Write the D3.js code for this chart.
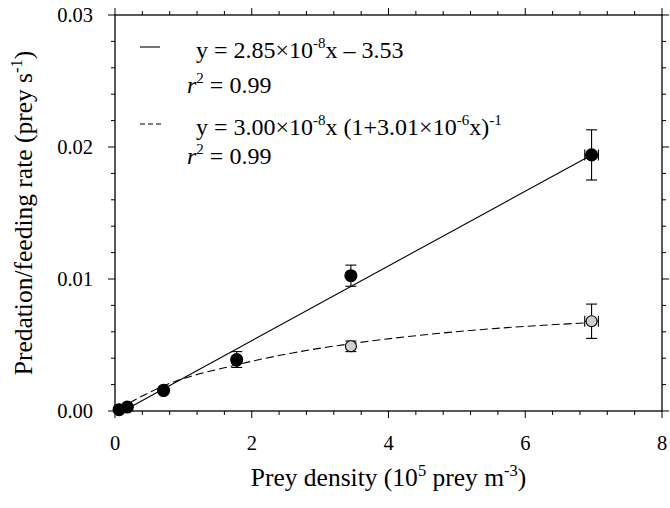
<!DOCTYPE html>
<html>
<head>
<meta charset="utf-8">
<script src="https://cdn.jsdelivr.net/npm/d3@7"></script>
<style>
body { margin: 0; background: #fff; }
</style>
</head>
<body>
<div id="chart"></div>
<script>
// prey density (10^5 prey m^-3)
const density = [0.06, 0.18, 0.71, 1.78, 3.45, 6.97];
const densityErr = [0, 0, 0, 0, 0.04, 0.1];
// filled symbols: predation rate
const predRate = [0.0001, 0.0003, 0.00155, 0.0039, 0.01025, 0.0194];
const predErr = [0.00005, 0.0001, 0.0002, 0.0006, 0.0008, 0.0019];
// open symbols: feeding rate
const feedRate = [0.0001, 0.0003, 0.0016, 0.0038, 0.0049, 0.0068];
const feedErr = [0.00005, 0.0001, 0.0002, 0.0002, 0.0004, 0.0013];
// fitted lines
const linFitX = [0.12, 6.97];
const linFitY = [0.0, 0.0194];
const curveFitX = [0.06, 0.18, 0.71, 1.78, 2.6, 3.45, 5.2, 6.97];
const curveFitY = [0.00018, 0.00053, 0.0019, 0.0035, 0.0044, 0.0051, 0.0061, 0.0067];

const xTicks = [0, 2, 4, 6, 8];
const yTicks = [0.00, 0.01, 0.02, 0.03];

const W = 670, H = 508;
const margin = {left: 115, right: 8, top: 15, bottom: 97};
const FONT = '"Liberation Serif", "Times New Roman", Times, "DejaVu Serif", serif';

const svg = d3.select('#chart').append('svg')
    .attr('width', W).attr('height', H)
    .style('font-family', FONT);

const x = d3.scaleLinear().domain([0, 8]).range([margin.left, W - margin.right]);
const y = d3.scaleLinear().domain([0, 0.03]).range([H - margin.bottom, margin.top]);

const x0 = x(0), x1 = x(8), y0 = y(0), y1 = y(0.03);

// minor + major ticks on all four sides, pointing outward
const xMinor = d3.range(0, 8.001, 0.4);
const yMinor = d3.range(0, 0.03001, 0.002);
const ticks = svg.append('g').attr('stroke', '#000').attr('stroke-width', 1);
xMinor.forEach(v => {
    const major = Math.abs(v / 2 - Math.round(v / 2)) < 1e-6;
    const len = major ? 7 : 4;
    ticks.append('line').attr('x1', x(v)).attr('x2', x(v)).attr('y1', y0).attr('y2', y0 + len);
    ticks.append('line').attr('x1', x(v)).attr('x2', x(v)).attr('y1', y1).attr('y2', y1 - len);
});
yMinor.forEach(v => {
    const major = Math.abs(v / 0.01 - Math.round(v / 0.01)) < 1e-6;
    const len = major ? 7 : 4;
    ticks.append('line').attr('y1', y(v)).attr('y2', y(v)).attr('x1', x0).attr('x2', x0 - len);
    ticks.append('line').attr('y1', y(v)).attr('y2', y(v)).attr('x1', x1).attr('x2', x1 + len);
});

svg.append('rect')
    .attr('x', x0).attr('y', y1)
    .attr('width', x1 - x0).attr('height', y0 - y1)
    .attr('fill', 'none').attr('stroke', '#000').attr('stroke-width', 1.3);

// tick labels
svg.append('g').selectAll('text').data(xTicks).enter().append('text')
    .attr('x', d => x(d)).attr('y', y0 + 39)
    .attr('text-anchor', 'middle').attr('font-size', 20.5)
    .text(d => d);
svg.append('g').selectAll('text').data(yTicks).enter().append('text')
    .attr('x', x0 - 22).attr('y', d => y(d) + 7)
    .attr('text-anchor', 'end').attr('font-size', 20.5)
    .text(d => d.toFixed(2));

// axis titles
const xt = svg.append('text')
    .attr('x', (x0 + x1) / 2).attr('y', 486)
    .attr('text-anchor', 'middle').attr('font-size', 25.5);
xt.append('tspan').text('Prey density (10');
xt.append('tspan').attr('dy', -10).attr('font-size', 16.5).text('5');
xt.append('tspan').attr('dy', 10).text(' prey m');
xt.append('tspan').attr('dy', -10).attr('font-size', 16.5).text('-3');
xt.append('tspan').attr('dy', 10).text(')');

const yt = svg.append('text')
    .attr('transform', `translate(32, ${(y0 + y1) / 2}) rotate(-90)`)
    .attr('text-anchor', 'middle').attr('font-size', 25.5);
yt.append('tspan').text('Predation/feeding rate (prey s');
yt.append('tspan').attr('dy', -10).attr('font-size', 16.5).text('-1');
yt.append('tspan').attr('dy', 10).text(')');

// fitted lines
const line = d3.line().x(d => x(d[0])).y(d => y(d[1]));
svg.append('path')
    .datum(d3.zip(linFitX, linFitY))
    .attr('d', line)
    .attr('fill', 'none').attr('stroke', '#000').attr('stroke-width', 1.1);
svg.append('path')
    .datum(d3.zip(curveFitX, curveFitY))
    .attr('d', line.curve(d3.curveMonotoneX))
    .attr('fill', 'none').attr('stroke', '#000').attr('stroke-width', 1.1)
    .attr('stroke-dasharray', '8,4');

function drawSeries(rates, errs, fill, r) {
    const pts = density.map((d, i) => ({x: d, y: rates[i], ey: errs[i], ex: densityErr[i]}));
    const g = svg.append('g').attr('stroke', '#000').attr('stroke-width', 1.1);
    const cap = 5.5;
    pts.forEach(p => {
        const cx = x(p.x), cy = y(p.y);
        const top = y(p.y + p.ey), bot = y(p.y - p.ey);
        g.append('line').attr('x1', cx).attr('x2', cx).attr('y1', top).attr('y2', bot);
        g.append('line').attr('x1', cx - cap).attr('x2', cx + cap).attr('y1', top).attr('y2', top);
        g.append('line').attr('x1', cx - cap).attr('x2', cx + cap).attr('y1', bot).attr('y2', bot);
        if (p.ex > 0) {
            const l = x(p.x - p.ex), rr = x(p.x + p.ex);
            g.append('line').attr('x1', l).attr('x2', rr).attr('y1', cy).attr('y2', cy);
            g.append('line').attr('x1', l).attr('x2', l).attr('y1', cy - cap).attr('y2', cy + cap);
            g.append('line').attr('x1', rr).attr('x2', rr).attr('y1', cy - cap).attr('y2', cy + cap);
        }
    });
    g.selectAll('circle').data(pts).enter().append('circle')
        .attr('cx', d => x(d.x)).attr('cy', d => y(d.y))
        .attr('r', r).attr('fill', fill);
}
drawSeries(feedRate, feedErr, '#cfcfcf', 5.5);
drawSeries(predRate, predErr, '#000', 6);

// legend
const leg = svg.append('g');
leg.append('line').attr('x1', 140).attr('x2', 160).attr('y1', 47).attr('y2', 47)
    .attr('stroke', '#000').attr('stroke-width', 1.1);
leg.append('line').attr('x1', 140).attr('x2', 161).attr('y1', 124).attr('y2', 124)
    .attr('stroke', '#000').attr('stroke-width', 1.1).attr('stroke-dasharray', '5,3');

function eqLine(xp, yp, parts) {
    const t = leg.append('text').attr('x', xp).attr('y', yp).attr('font-size', 24);
    let up = false;
    parts.forEach(p => {
        const s = t.append('tspan').text(p.t);
        if (p.sup && !up) { s.attr('dy', -10).attr('font-size', 15); up = true; }
        else if (p.sup) { s.attr('font-size', 15); }
        else if (up) { s.attr('dy', 10); up = false; }
        if (p.it) s.attr('font-style', 'italic');
    });
}
eqLine(196, 58, [{t: 'y = 2.85×10'}, {t: '-8', sup: true}, {t: 'x – 3.53'}]);
eqLine(187, 93, [{t: 'r', it: true}, {t: '2', sup: true}, {t: ' = 0.99'}]);
eqLine(196, 135, [{t: 'y = 3.00×10'}, {t: '-8', sup: true}, {t: 'x (1+3.01×10'}, {t: '-6', sup: true},
    {t: 'x)'}, {t: '-1', sup: true}]);
eqLine(187, 164, [{t: 'r', it: true}, {t: '2', sup: true}, {t: ' = 0.99'}]);
</script>
</body>
</html>
